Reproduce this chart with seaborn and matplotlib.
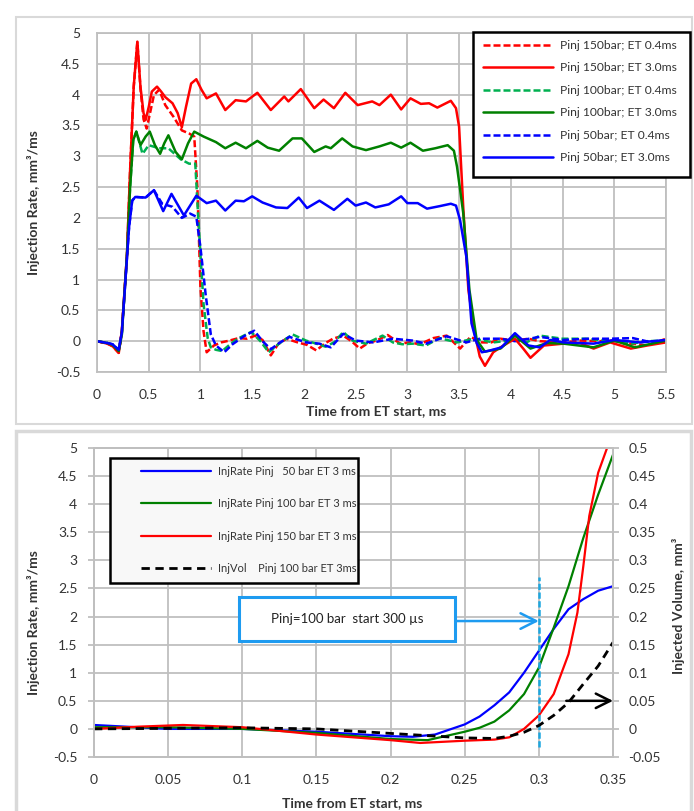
import matplotlib
matplotlib.use("Agg")
import matplotlib.pyplot as plt
from matplotlib.patches import Rectangle
from matplotlib.ticker import FuncFormatter
import seaborn as sns

# ---------------- top chart: injection rate vs time, ms ----------------
# Pinj 150 bar, ET 3.0 ms
R3_t = [0.00, 0.10, 0.15, 0.21, 0.24, 0.29, 0.32, 0.355, 0.39, 0.42,
        0.45, 0.47, 0.50, 0.53, 0.58, 0.62, 0.66, 0.73, 0.78, 0.82,
        0.86, 0.91, 0.96, 1.01, 1.06, 1.15, 1.24, 1.34, 1.44, 1.55,
        1.68, 1.81, 1.85, 1.97, 2.10, 2.19, 2.29, 2.40, 2.52, 2.66,
        2.73, 2.84, 2.94, 3.03, 3.13, 3.21, 3.29, 3.42, 3.47, 3.50,
        3.54, 3.59, 3.65, 3.70, 3.75, 3.83, 3.90, 4.04, 4.12, 4.19,
        4.32, 4.51, 4.67, 4.80, 4.96, 5.16, 5.32, 5.50]
R3_v = [0.00, -0.04, -0.08, -0.19, 0.16, 1.41, 2.77, 4.13, 4.86, 4.13,
        3.70, 3.59, 3.80, 4.05, 4.13, 4.05, 3.96, 3.86, 3.70, 3.47,
        3.80, 4.18, 4.25, 4.08, 3.94, 4.02, 3.75, 3.91, 3.89, 4.03,
        3.75, 3.97, 3.89, 4.09, 3.78, 3.92, 3.78, 4.03, 3.83, 3.89,
        3.83, 4.00, 3.76, 3.94, 3.85, 3.86, 3.79, 3.90, 3.78, 3.48,
        2.18, 0.83, 0.13, -0.25, -0.40, -0.18, -0.10, 0.04, -0.12, -0.27,
        -0.07, -0.04, -0.03, -0.12, -0.02, -0.12, -0.07, -0.02]

# Pinj 100 bar, ET 3.0 ms
G3_t = [0.00, 0.10, 0.15, 0.21, 0.24, 0.29, 0.32, 0.35, 0.38, 0.42,
        0.47, 0.51, 0.56, 0.61, 0.65, 0.69, 0.76, 0.82, 0.88, 0.94,
        1.03, 1.15, 1.24, 1.34, 1.44, 1.55, 1.65, 1.76, 1.89, 1.98,
        2.10, 2.21, 2.26, 2.37, 2.47, 2.60, 2.73, 2.84, 2.94, 3.03,
        3.15, 3.27, 3.39, 3.45, 3.48, 3.54, 3.60, 3.67, 3.75, 3.90,
        4.04, 4.19, 4.35, 4.51, 4.80, 5.00, 5.20, 5.50]
G3_v = [0.00, -0.03, -0.06, -0.16, 0.11, 1.41, 2.50, 3.26, 3.40, 3.18,
        3.32, 3.40, 3.18, 3.04, 3.21, 3.34, 3.07, 2.95, 3.21, 3.40,
        3.32, 3.23, 3.13, 3.22, 3.13, 3.25, 3.14, 3.09, 3.29, 3.29,
        3.07, 3.16, 3.13, 3.29, 3.16, 3.10, 3.16, 3.22, 3.14, 3.22,
        3.09, 3.13, 3.18, 3.09, 2.83, 2.08, 0.83, 0.02, -0.17, -0.12,
        0.09, -0.12, -0.03, -0.04, -0.10, 0.01, -0.10, 0.01]

# Pinj 50 bar, ET 3.0 ms
B3_t = [0.00, 0.10, 0.15, 0.21, 0.24, 0.27, 0.31, 0.34, 0.37, 0.47,
        0.55, 0.64, 0.72, 0.84, 0.96, 1.06, 1.15, 1.24, 1.34, 1.42,
        1.50, 1.60, 1.73, 1.84, 1.95, 2.03, 2.15, 2.29, 2.42, 2.50,
        2.60, 2.69, 2.82, 2.94, 3.00, 3.10, 3.19, 3.31, 3.42, 3.47,
        3.51, 3.57, 3.62, 3.67, 3.72, 3.80, 3.91, 4.04, 4.17, 4.28,
        4.38, 4.51, 4.80, 5.00, 5.25, 5.50]
B3_v = [0.00, -0.03, -0.05, -0.14, 0.14, 0.87, 1.85, 2.28, 2.34, 2.33,
        2.45, 2.11, 2.39, 2.04, 2.36, 2.24, 2.28, 2.12, 2.28, 2.27,
        2.35, 2.25, 2.17, 2.16, 2.33, 2.16, 2.28, 2.13, 2.31, 2.20,
        2.25, 2.17, 2.22, 2.35, 2.24, 2.24, 2.15, 2.19, 2.23, 2.20,
        1.96, 1.37, 0.29, -0.03, -0.18, -0.15, -0.10, 0.13, -0.07, -0.10,
        0.02, -0.02, -0.04, 0.02, -0.02, 0.02]

# Pinj 150 bar, ET 0.4 ms
R04_t = [0.00, 0.10, 0.15, 0.21, 0.24, 0.29, 0.32, 0.355, 0.39, 0.42,
         0.45, 0.48, 0.55, 0.60, 0.66, 0.74, 0.82, 0.89, 0.94, 0.97,
         1.00, 1.03, 1.06, 1.13, 1.20, 1.28, 1.37, 1.45, 1.53, 1.60,
         1.68, 1.75, 1.83, 1.94, 2.03, 2.12, 2.20, 2.28, 2.38, 2.46,
         2.54, 2.62, 2.70, 2.81, 2.93, 3.02, 3.12, 3.25, 3.38, 3.51,
         3.61, 3.72, 3.81, 3.90, 4.04, 4.17, 4.28, 4.51, 4.67, 4.86,
         5.00, 5.16, 5.32, 5.50]
R04_v = [0.00, -0.04, -0.08, -0.19, 0.16, 1.41, 2.77, 4.13, 4.85, 4.10,
         3.60, 3.45, 3.99, 4.08, 3.83, 3.64, 3.42, 3.37, 3.32, 2.50,
         0.87, 0.16, -0.18, -0.07, -0.02, 0.01, 0.05, 0.04, 0.09, 0.02,
         -0.23, -0.05, 0.04, -0.02, -0.06, -0.15, -0.04, 0.04, 0.09, 0.00,
         -0.12, -0.03, 0.01, 0.10, -0.04, -0.02, -0.05, 0.05, 0.09, -0.12,
         0.07, -0.02, -0.02, 0.04, 0.01, 0.04, 0.00, -0.02, 0.01, 0.00,
         0.01, -0.04, -0.07, 0.04]

# Pinj 100 bar, ET 0.4 ms
G04_t = [0.00, 0.10, 0.15, 0.21, 0.24, 0.29, 0.32, 0.35, 0.38, 0.44,
         0.50, 0.60, 0.69, 0.81, 0.89, 0.95, 0.98, 1.03, 1.07, 1.10,
         1.15, 1.21, 1.28, 1.36, 1.49, 1.58, 1.66, 1.76, 1.89, 2.02,
         2.12, 2.21, 2.30, 2.38, 2.47, 2.60, 2.76, 2.86, 2.95, 3.05,
         3.18, 3.31, 3.48, 3.64, 3.83, 4.03, 4.15, 4.28, 4.50, 4.72,
         5.00, 5.16, 5.32, 5.50]
G04_v = [0.00, -0.03, -0.06, -0.16, 0.11, 1.41, 2.50, 3.26, 3.40, 3.04,
         3.18, 3.13, 3.13, 2.95, 2.88, 2.88, 1.96, 0.60, 0.05, -0.10,
         -0.14, -0.16, -0.06, 0.04, 0.15, 0.00, -0.18, -0.04, 0.11, 0.01,
         -0.04, -0.09, -0.01, 0.15, 0.01, -0.04, 0.09, -0.02, -0.05, -0.04,
         -0.07, 0.05, -0.02, 0.04, -0.02, 0.02, -0.02, 0.09, 0.04, 0.04,
         0.00, -0.04, 0.00, 0.01]

# Pinj 50 bar, ET 0.4 ms
B04_t = [0.00, 0.10, 0.15, 0.21, 0.24, 0.27, 0.31, 0.34, 0.37, 0.47,
         0.55, 0.63, 0.73, 0.82, 0.90, 0.96, 1.00, 1.05, 1.10, 1.15,
         1.23, 1.31, 1.42, 1.52, 1.60, 1.68, 1.77, 1.86, 2.02, 2.15,
         2.26, 2.38, 2.50, 2.67, 2.86, 3.05, 3.18, 3.38, 3.57, 3.70,
         3.90, 4.04, 4.28, 4.50, 4.75, 4.96, 5.18, 5.36, 5.50]
B04_v = [0.00, -0.03, -0.05, -0.14, 0.14, 0.87, 1.85, 2.28, 2.34, 2.33,
         2.45, 2.23, 2.18, 2.00, 2.07, 2.02, 1.52, 0.76, 0.11, -0.07,
         -0.18, -0.05, 0.08, 0.17, 0.00, -0.13, -0.02, 0.07, -0.02, -0.04,
         -0.10, 0.12, 0.01, -0.02, 0.04, 0.01, -0.04, 0.08, -0.02, 0.04,
         0.04, 0.00, 0.07, 0.02, 0.04, 0.04, 0.05, -0.02, 0.02]

top_xticks = [0, 0.5, 1, 1.5, 2, 2.5, 3, 3.5, 4, 4.5, 5, 5.5]
rate_yticks = [-0.5, 0, 0.5, 1, 1.5, 2, 2.5, 3, 3.5, 4, 4.5, 5]

# ---------------- bottom chart: start of injection, ET 3 ms ----------------
b50_t = [0.00, 0.05, 0.10, 0.15, 0.20, 0.215, 0.23, 0.25, 0.26, 0.27,
         0.28, 0.29, 0.30, 0.31, 0.32, 0.33, 0.34, 0.35]
b50_v = [0.07, 0.00, 0.00, -0.05, -0.13, -0.14, -0.10, 0.08, 0.22, 0.42,
         0.65, 1.00, 1.39, 1.78, 2.13, 2.31, 2.46, 2.54]
b100_t = [0.00, 0.05, 0.10, 0.15, 0.20, 0.225, 0.25, 0.26, 0.27, 0.28,
          0.29, 0.30, 0.31, 0.32, 0.33, 0.34, 0.35]
b100_v = [0.03, 0.03, 0.00, -0.07, -0.18, -0.20, -0.05, 0.02, 0.13, 0.33,
          0.62, 1.09, 1.80, 2.54, 3.40, 4.17, 4.88]
b150_t = [0.00, 0.03, 0.06, 0.10, 0.15, 0.20, 0.22, 0.25, 0.27, 0.28,
          0.29, 0.30, 0.31, 0.32, 0.326, 0.33, 0.334, 0.34, 0.346, 0.35]
b150_v = [0.00, 0.04, 0.07, 0.03, -0.10, -0.20, -0.25, -0.21, -0.19, -0.15,
          0.00, 0.24, 0.62, 1.33, 2.07, 2.90, 3.79, 4.56, 5.00, 5.30]
# injected volume, mm3 (right axis)
vol_t = [0.00, 0.05, 0.10, 0.15, 0.20, 0.225, 0.25, 0.27, 0.28, 0.29,
         0.30, 0.31, 0.32, 0.33, 0.34, 0.35]
vol_v = [0.000, 0.001, 0.002, 0.000, -0.008, -0.012, -0.016, -0.017, -0.013, -0.006,
         0.006, 0.024, 0.047, 0.080, 0.112, 0.154]

bot_xticks = [0, 0.05, 0.1, 0.15, 0.2, 0.25, 0.3, 0.35]
vol_yticks = [-0.05, 0, 0.05, 0.1, 0.15, 0.2, 0.25, 0.3, 0.35, 0.4, 0.45, 0.5]
start_ms = 0.3      # marked start of injection
marked_vol = 0.05   # volume pointed at on the right axis

# ---------------- figure ----------------
sns.set_style("white")
plt.rcParams['font.family'] = ['Lato', 'DejaVu Sans']

W, H = 694, 811
fig = plt.figure(figsize=(W / 100, H / 100), dpi=100)


def fx(px):
    return px / W


def fy(py):
    return 1 - py / H


def frame(x0, y0, x1, y1, **kw):
    r = Rectangle((fx(x0), fy(y1)), fx(x1) - fx(x0), fy(y0) - fy(y1),
                  transform=fig.transFigure, **kw)
    fig.add_artist(r)
    return r


# light panel borders
frame(16, 17, 692, 424, fill=False, ec='#D9D9D9', lw=1.5, zorder=-1)
frame(16, 431, 691, 813, fill=False, ec='#D9D9D9', lw=2.5, zorder=-1)

gray = '#BFBFBF'
txt = '#333333'
fmt = FuncFormatter(lambda v, _: f"{v:g}")


def style(ax):
    ax.grid(True, color=gray, lw=1.3)
    ax.set_axisbelow(True)
    for s in ax.spines.values():
        s.set_color(gray)
        s.set_linewidth(1.3)
    ax.tick_params(length=4, width=1.3, color=gray, labelsize=10,
                   labelcolor=txt, pad=8)
    ax.xaxis.set_major_formatter(fmt)
    ax.yaxis.set_major_formatter(fmt)


# ---- top axes ----
ax1 = fig.add_axes([fx(97), fy(372), fx(666) - fx(97), fy(33) - fy(372)])
dash = (0, (2.8, 1.2))
lw1 = 1.8
series = [
    (R04_t, R04_v, '#FF0000', dash, 'Pinj 150bar; ET 0.4ms'),
    (G04_t, G04_v, '#00B050', dash, 'Pinj 100bar; ET 0.4ms'),
    (B04_t, B04_v, '#0000FF', dash, 'Pinj 50bar; ET 0.4ms'),
    (R3_t, R3_v, '#FF0000', '-', 'Pinj 150bar; ET 3.0ms'),
    (G3_t, G3_v, '#008000', '-', 'Pinj 100bar; ET 3.0ms'),
    (B3_t, B3_v, '#0000FF', '-', 'Pinj 50bar; ET 3.0ms'),
]
h1 = {}
for t, v, c, ls, lab in series:
    sns.lineplot(x=t, y=v, ax=ax1, color=c, lw=lw1, linestyle=ls, sort=False)
    h1[lab] = ax1.get_lines()[-1]
if ax1.get_legend():
    ax1.get_legend().remove()

ax1.set_xlim(0, 5.5)
ax1.set_ylim(-0.5, 5)
ax1.set_xticks(top_xticks)
ax1.set_yticks(rate_yticks)
style(ax1)
ax1.set_xlabel('Time from ET start, ms', fontsize=10, fontweight='bold', color=txt)
ax1.set_ylabel('Injection Rate, mm³/ms', fontsize=10, fontweight='bold', color=txt)
ax1.xaxis.set_label_coords(0.49, -0.097)
ax1.yaxis.set_label_coords(-0.100, 0.5)

order1 = ['Pinj 150bar; ET 0.4ms', 'Pinj 150bar; ET 3.0ms',
          'Pinj 100bar; ET 0.4ms', 'Pinj 100bar; ET 3.0ms',
          'Pinj 50bar; ET 0.4ms', 'Pinj 50bar; ET 3.0ms']
frame(473, 32, 690, 177, fc='white', ec='black', lw=1.8, zorder=3)
fig.legend([h1[k] for k in order1], order1, loc='upper left',
           bbox_to_anchor=(fx(483), fy(40)), frameon=False, borderpad=0,
           borderaxespad=0, fontsize=8.7, handlelength=5.8, handletextpad=0.6,
           labelspacing=0.95, labelcolor=txt)

# ---- bottom axes ----
ax2 = fig.add_axes([fx(94), fy(757), fx(613) - fx(94), fy(448) - fy(757)])
lw2 = 1.6
sns.lineplot(x=b50_t, y=b50_v, ax=ax2, color='#0000FF', lw=lw2, sort=False)
hb50 = ax2.get_lines()[-1]
sns.lineplot(x=b100_t, y=b100_v, ax=ax2, color='#008000', lw=lw2, sort=False)
hb100 = ax2.get_lines()[-1]
sns.lineplot(x=b150_t, y=b150_v, ax=ax2, color='#FF0000', lw=lw2, sort=False)
hb150 = ax2.get_lines()[-1]
ax2.set_xlim(0, 0.35)
ax2.set_ylim(-0.5, 5)
ax2.set_xticks(bot_xticks)
ax2.set_yticks(rate_yticks)
style(ax2)
ax2.set_xlabel('Time from ET start, ms', fontsize=10, fontweight='bold', color=txt)
ax2.set_ylabel('Injection Rate, mm³/ms', fontsize=10, fontweight='bold', color=txt)
ax2.xaxis.set_label_coords(0.497, -0.129)
ax2.yaxis.set_label_coords(-0.104, 0.435)

ax2b = ax2.twinx()
sns.lineplot(x=vol_t, y=vol_v, ax=ax2b, color='black', lw=2.0,
             linestyle=(0, (3, 2)), sort=False)
hvol = ax2b.get_lines()[-1]
ax2b.set_ylim(-0.05, 0.5)
ax2b.set_yticks(vol_yticks)
ax2b.grid(False)
for s in ax2b.spines.values():
    s.set_color(gray)
    s.set_linewidth(1.3)
ax2b.tick_params(length=4, width=1.3, color=gray, labelsize=10,
                 labelcolor=txt, pad=7)
ax2b.yaxis.set_major_formatter(fmt)
ax2b.set_ylabel('Injected Volume, mm³', fontsize=10, fontweight='bold', color=txt)
ax2b.yaxis.set_label_coords(1.114, 0.49)
for a in (ax2, ax2b):
    if a.get_legend():
        a.get_legend().remove()

# annotation box + arrows
ax2.add_patch(Rectangle((0.0978, 1.57), 0.1456, 0.78, fc='white',
                        ec='#1E9BF0', lw=2.2, zorder=4))
ax2.text(0.1706, 1.96, 'Pinj=100 bar  start 300 µs', ha='center', va='center',
         fontsize=9.5, color='#222222', zorder=5)
ax2.annotate('', xy=(start_ms, 1.92), xytext=(0.2434, 1.92),
             arrowprops=dict(arrowstyle='->', color='#1E9BF0', lw=1.8,
                             mutation_scale=28, shrinkA=0, shrinkB=0))
ax2.axvline(start_ms, ymin=0.031, ymax=0.584, color='#1CA7E0', lw=1.8,
            linestyle=(0, (2.5, 1)))
ax2b.annotate('', xy=(0.35, marked_vol), xytext=(0.3185, marked_vol),
              arrowprops=dict(arrowstyle='->', color='black', lw=1.8,
                              mutation_scale=26, shrinkA=0, shrinkB=0),
              annotation_clip=False)

frame(110, 458, 358, 583, fc='#F8F8F8', ec='black', lw=1.8, zorder=3)
labels2 = ['InjRate Pinj   50 bar ET 3 ms', 'InjRate Pinj 100 bar ET 3 ms',
           'InjRate Pinj 150 bar ET 3 ms', 'InjVol    Pinj 100 bar ET 3ms']
fig.legend([hb50, hb100, hb150, hvol], labels2, loc='upper left',
           bbox_to_anchor=(fx(141), fy(466)), frameon=False, borderpad=0,
           borderaxespad=0, fontsize=8, handlelength=6.3, handletextpad=0.63,
           labelspacing=1.92, labelcolor=txt)

fig.savefig('out.png', dpi=100)
